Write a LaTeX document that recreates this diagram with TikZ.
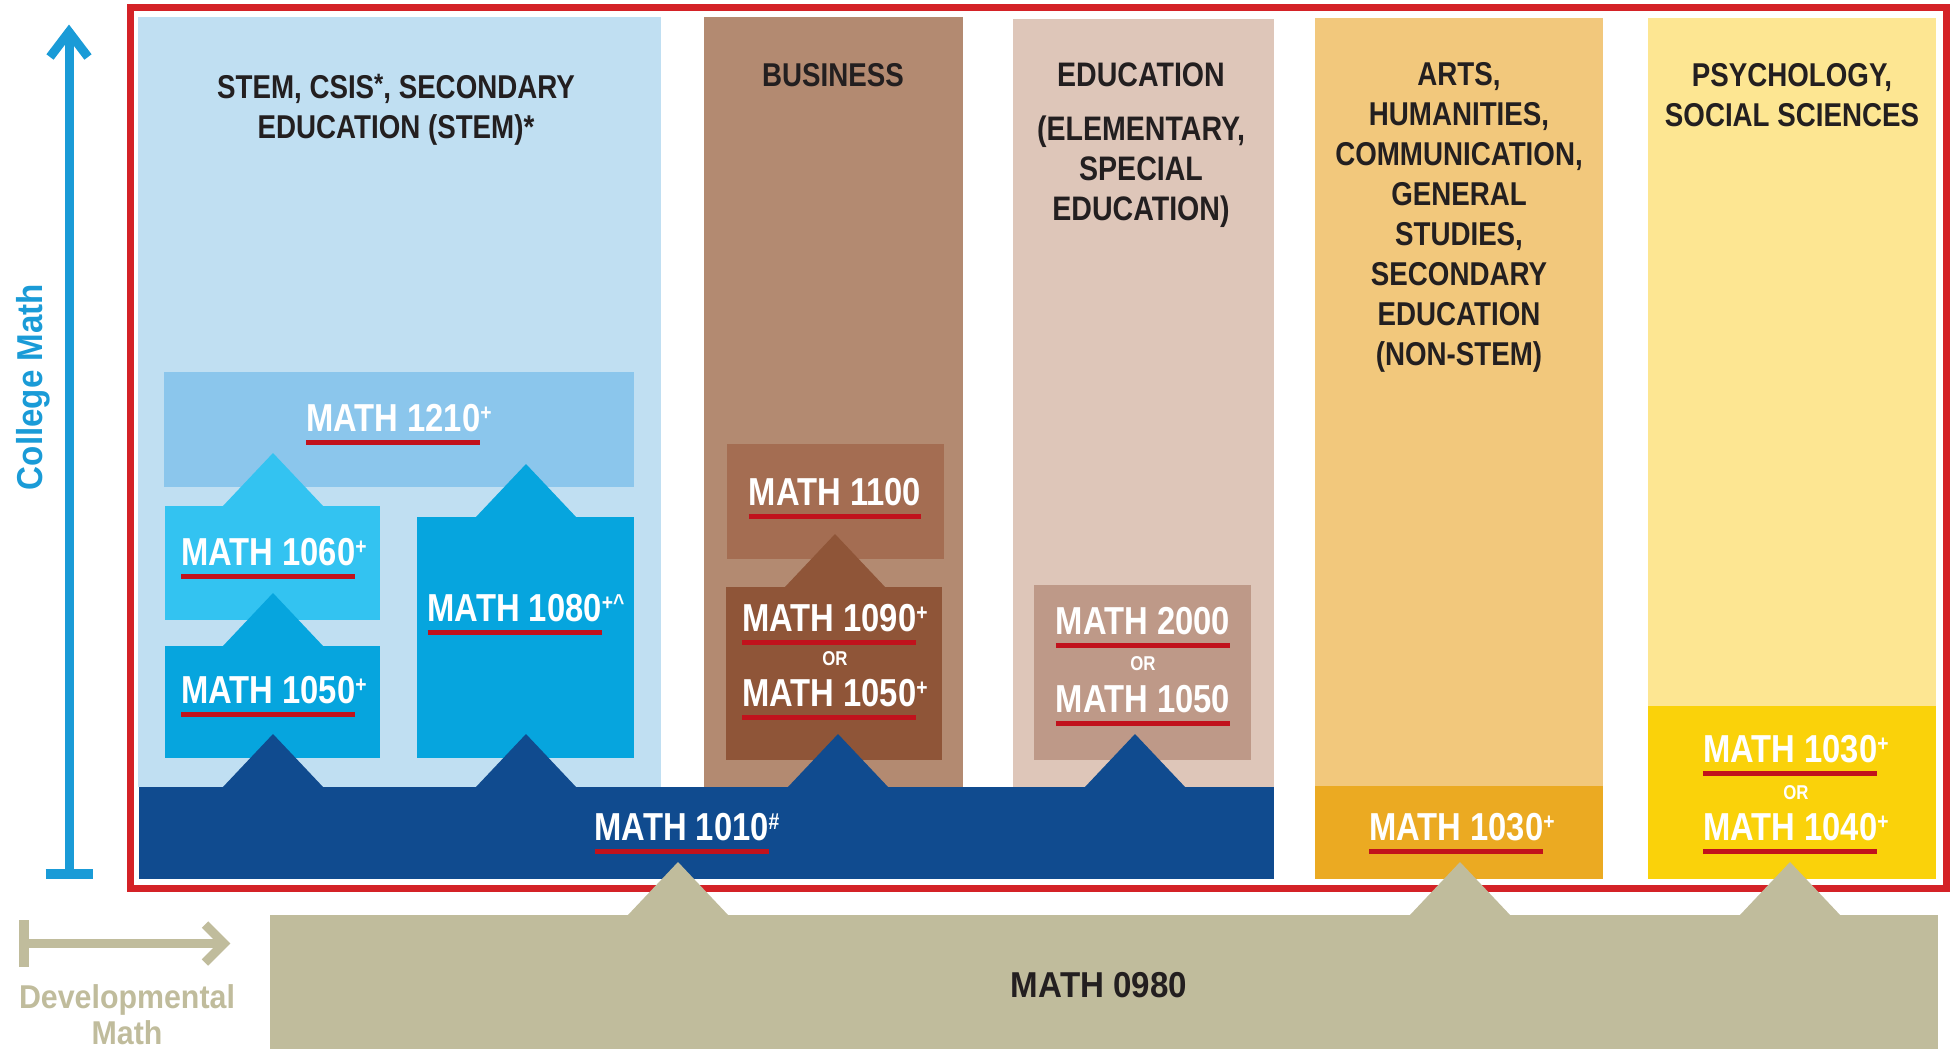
\documentclass[tikz,border=0pt]{standalone}
\usepackage{fontspec}
\usepackage{xcolor}
\newfontfamily\condfont{Liberation Sans}[FakeStretch=0.84]
\newfontfamily\labfont{Liberation Sans}[FakeStretch=0.92]

\definecolor{stembg}{HTML}{C0DFF2}
\definecolor{c1210}{HTML}{8BC6EC}
\definecolor{c1060}{HTML}{33C3F1}
\definecolor{c1050}{HTML}{06A5DE}
\definecolor{c1010}{HTML}{104B8F}
\definecolor{busbg}{HTML}{B38A71}
\definecolor{c1100}{HTML}{A46D52}
\definecolor{c1090}{HTML}{8F5538}
\definecolor{edubg}{HTML}{DEC6B9}
\definecolor{c2000}{HTML}{BE9988}
\definecolor{artsbg}{HTML}{F2C87C}
\definecolor{c1030}{HTML}{EBAA22}
\definecolor{psybg}{HTML}{FDE692}
\definecolor{c1040}{HTML}{FAD20A}
\definecolor{c0980}{HTML}{C0BC9C}
\definecolor{framered}{HTML}{D42227}
\definecolor{ulred}{HTML}{C1121C}
\definecolor{inkdark}{HTML}{231F20}
\definecolor{collegeblue}{HTML}{1A9BD7}

\newcommand{\supm}[1]{\raisebox{11pt}{\fontsize{23}{23}\selectfont #1}}
\newcommand{\smark}[1]{\raisebox{5pt}{\fontsize{28}{28}\selectfont #1}}
\newcommand{\crs}[2]{\setbox0=\hbox{#1}\rlap{\textcolor{ulred}{\rule[-13.5pt]{\wd0}{5pt}}}\box0\supm{#2}}

\begin{document}
\begin{tikzpicture}[x=1pt,y=-1pt,
    head/.style={font=\condfont\bfseries\fontsize{33}{40}\selectfont, text=inkdark, align=center, inner sep=0pt, anchor=north},
    lab/.style={font=\condfont\bfseries\fontsize{39}{44}\selectfont, text=white, inner sep=0pt, anchor=base},
    orlab/.style={font=\condfont\bfseries\fontsize{20}{24}\selectfont, text=white, inner sep=0pt, anchor=base},
    axisline/.style={line width=9pt}]
    \useasboundingbox (0,0) rectangle (1953,1049);

    % Columns
    \fill[stembg] (138,17) rectangle (661,787);
    \fill[busbg] (704,17) rectangle (963,787);
    \fill[edubg] (1013,19) rectangle (1274,787);
    \fill[artsbg] (1315,18) rectangle (1603,786);
    \fill[psybg] (1648,18) rectangle (1936,706);

    % Course boxes
    \fill[c1210] (164,372) rectangle (634,487);
    \fill[c1060] (165,506) rectangle (380,620);
    \fill[c1050] (165,646) rectangle (380,758);
    \fill[c1050] (417,517) rectangle (634,758);
    \fill[c1100] (727,444) rectangle (944,559);
    \fill[c1090] (726,587) rectangle (942,760);
    \fill[c2000] (1034,585) rectangle (1251,760);
    \fill[c1010] (139,787) rectangle (1274,879);
    \fill[c1030] (1315,786) rectangle (1603,879);
    \fill[c1040] (1648,706) rectangle (1936,879);

    % Peaks pointing up
    \foreach \px/\py/\col in {273/506/c1060, 273/646/c1050, 526/517/c1050, 835/587/c1090,
                              273/787/c1010, 526/787/c1010, 838/787/c1010, 1135/787/c1010}
        \fill[\col] (\px-51,\py+1) -- (\px,\py-53) -- (\px+51,\py+1) -- cycle;

    % Frame
    \draw[line width=7pt, framered] (130,8) rectangle (1946.5,888);

    % Developmental band
    \fill[c0980] (270,915) rectangle (1938,1049);
    \foreach \px in {678,1460,1790}
        \fill[c0980] (\px-51,916) -- (\px,862) -- (\px+51,916) -- cycle;

    % Axis arrows
    \coordinate (cbase) at (69,874);
    \coordinate (ctip) at (69,32);
    \draw[axisline, collegeblue] (cbase) -- (ctip);
    \draw[axisline, collegeblue] (ctip) ++(-19,25) -- (ctip) -- ++(19,25);
    \draw[line width=10pt, collegeblue] (cbase) ++(-23.5,0) -- ++(47,0);
    \coordinate (dbase) at (24,943.5);
    \coordinate (dtip) at (224,943.5);
    \draw[axisline, c0980] (dbase) -- (dtip);
    \draw[axisline, c0980] (dtip) ++(-19,-19) -- (dtip) -- ++(-19,19);
    \draw[line width=10pt, c0980] (dbase) ++(0,-23.5) -- ++(0,47);

    % Axis labels
    \node[rotate=90, anchor=base, inner sep=0pt, text=collegeblue,
          font=\labfont\bfseries\fontsize{36}{40}\selectfont] (college) at (42,387) {College Math};
    \node[anchor=north, align=center, inner sep=0pt, text=c0980,
          font=\labfont\bfseries\fontsize{33}{36}\selectfont] (devel) at (127,984) {Developmental\\Math};

    % Column headings
    \node[head] (hstem) at (396,74) {STEM, CSIS\smark{*}, SECONDARY\\EDUCATION (STEM)*};
    \node[head] (hbus) at (833,63) {BUSINESS};
    \node[head, font=\condfont\bfseries\fontsize{34}{40}\selectfont] (hedu) at (1141,63) {EDUCATION\\[14pt](ELEMENTARY,\\SPECIAL\\EDUCATION)};
    \node[head] (harts) at (1459,62) {ARTS,\\HUMANITIES,\\COMMUNICATION,\\GENERAL\\STUDIES,\\SECONDARY\\EDUCATION\\(NON-STEM)};
    \node[head] (hpsy) at (1792,63) {PSYCHOLOGY,\\SOCIAL SCIENCES};

    % Course labels
    \node[lab] (m1210) at (399,431) {\crs{MATH 1210}{+}};
    \node[lab] (m1060) at (274,565) {\crs{MATH 1060}{+}};
    \node[lab] (m1050) at (274,703) {\crs{MATH 1050}{+}};
    \node[lab] (m1080) at (526,621) {\crs{MATH 1080}{+\textasciicircum}};
    \node[lab] (m1010) at (687,840) {\crs{MATH 1010}{\#}};
    \node[lab] (m1100) at (835,505) {\crs{MATH 1100}{}};
    \node[lab] (m1090) at (835,631) {\crs{MATH 1090}{+}};
    \node[orlab] (orbus) at (835,665) {OR};
    \node[lab] (m1050b) at (835,706) {\crs{MATH 1050}{+}};
    \node[lab] (m2000) at (1143,634) {\crs{MATH 2000}{}};
    \node[orlab] (oredu) at (1143,670) {OR};
    \node[lab] (m1050c) at (1143,712) {\crs{MATH 1050}{}};
    \node[lab] (m1030a) at (1462,840) {\crs{MATH 1030}{+}};
    \node[lab] (m1030b) at (1796,762) {\crs{MATH 1030}{+}};
    \node[orlab] (orpsy) at (1796,799) {OR};
    \node[lab] (m1040) at (1796,840) {\crs{MATH 1040}{+}};
    \node[anchor=base, inner sep=0pt, text=inkdark,
          font=\labfont\bfseries\fontsize{36}{40}\selectfont] (m0980) at (1099,997) {MATH 0980};
\end{tikzpicture}
\end{document}
